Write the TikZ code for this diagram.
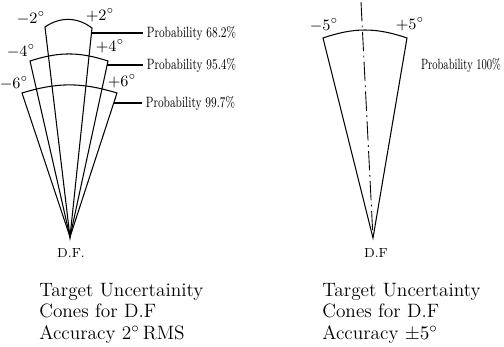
\documentclass[tikz,border=0pt]{standalone}
\usetikzlibrary{calc,positioning}
\tikzset{
  cone/.style={line width=0.6pt},
  leader/.style={line width=0.6pt},
  axisline/.style={line width=0.5pt,dash pattern=on 11pt off 2.5pt on 1pt off 2.5pt},
  problabel/.style={anchor=west,inner sep=0pt,outer sep=3pt,font=\fontsize{8.5}{9}\selectfont,xscale=0.74,transform shape},
  deglabel/.style={inner sep=0pt,font=\fontsize{9}{10}\selectfont},
  dflabel/.style={inner sep=0pt,font=\fontsize{7.5}{8}\selectfont},
  caption/.style={anchor=north west,align=left,inner sep=0pt,font=\fontsize{11}{12.2}\selectfont},
}
\begin{document}
\begin{tikzpicture}[x=0.02cm,y=0.02cm]
  \useasboundingbox (0,0) rectangle (504,346);
  % Left cones (2 deg RMS)
  \coordinate (dfa) at (70,109);
  \coordinate (l2) at (45,319); \coordinate (r2) at (92,318);
  \coordinate (l4) at (30,285); \coordinate (r4) at (108,285);
  \coordinate (l6) at (22,253); \coordinate (r6) at (117,253);
  \draw[cone] (dfa) -- (l2) to[bend left=36] (r2) -- cycle;
  \draw[cone] (dfa) -- (l4) to[bend left=18] (r4) -- cycle;
  \draw[cone] (dfa) -- (l6) to[bend left=17] (r6) -- cycle;
  \node[deglabel] (m2) at (31,328) {$-2^\circ$};
  \node[deglabel] (p2l) at (100,331) {$+2^\circ$};
  \node[deglabel] (m4) at (21,295) {$-4^\circ$};
  \node[deglabel] (p4l) at (110,300) {$+4^\circ$};
  \node[deglabel] (m6) at (14,263) {$-6^\circ$};
  \node[deglabel] (p6l) at (122,265) {$+6^\circ$};
  % Probability labels
  \coordinate (e2) at (91.5,313);
  \coordinate (e4) at (107.1,281);
  \coordinate (e6) at (113.7,243);
  \node[problabel] (prob2) at (143,313) {Probability 68.2\%};
  \node[problabel] (prob4) at (143,281) {Probability 95.4\%};
  \node[problabel] (prob6) at (142,243) {Probability 99.7\%};
  \draw[leader] (e2) -- (prob2.west);
  \draw[leader] (e4) -- (prob4.west);
  \draw[leader] (e6) -- (prob6.west);
  \node[dflabel] (dfla) at (71,93) {D.F.};
  \node[caption] (capa) at (39,63) {Target Uncertainity\\Cones for D.F\\Accuracy 2$^\circ$\,RMS};
  % Right cone (5 deg)
  \coordinate (dfb) at (373,108);
  \coordinate (l5) at (323,308); \coordinate (r5) at (407,308);
  \coordinate (axtop) at (361,344);
  \draw[cone] (dfb) -- (l5) to[bend left=19] (r5) -- cycle;
  \draw[axisline] (axtop) -- (dfb);
  \node[deglabel] (m5) at (324,321) {$-5^\circ$};
  \node[deglabel] (p5l) at (410,322) {$+5^\circ$};
  \node[problabel,outer sep=0pt,xscale=0.93] (prob5) at (421,281) {Probability 100\%};
  \node[dflabel] (dflb) at (376,93) {D.F};
  \node[caption] (capb) at (322,63) {Target Uncertainty\\Cones for D.F\\Accuracy $\pm5^\circ$};
\end{tikzpicture}
\end{document}
